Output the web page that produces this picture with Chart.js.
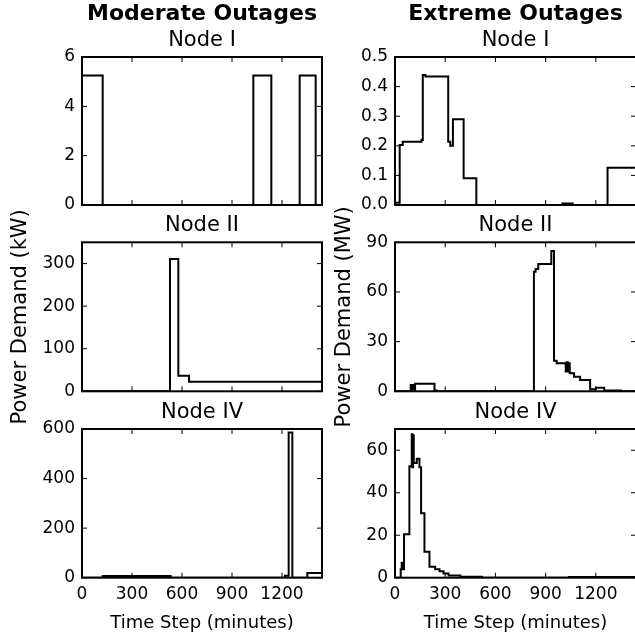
<!DOCTYPE html>
<html><head><meta charset="utf-8">
<script src="https://cdn.jsdelivr.net/npm/chart.js@4"></script>
<style>
html,body{margin:0;padding:0;width:635px;height:635px;overflow:hidden;background:#fff}
canvas{position:absolute;left:0;top:0}
</style></head><body>
<script>
// ---------- DATA ----------
const groupTitles = ['Moderate Outages', 'Extreme Outages'];
const nodeTitles = ['Node I', 'Node II', 'Node IV'];
const yAxisLabels = ['Power Demand (kW)', 'Power Demand (MW)'];
const xAxisLabel = 'Time Step (minutes)';
const timeTicks = [0, 300, 600, 900, 1200];
const timeMax = 1440;

// Moderate outages (kW): value v[i] holds from t[i] to t[i+1]
const modI_t = [0, 124, 1028, 1136, 1306, 1402, 1440];
const modI_v = [5.25, 0, 5.25, 0, 5.25, 0, 0];
const modI_yticks = [0, 2, 4, 6];

const modII_t = [0, 528, 578, 642, 1440];
const modII_v = [0, 311, 36.5, 22.5, 22.5];
const modII_yticks = [0, 100, 200, 300];

const modIV_t = [0, 124, 532, 1218, 1240, 1262, 1352, 1440];
const modIV_v = [0, 7, 0, 8, 586, 0, 19, 19];
const modIV_yticks = [0, 200, 400, 600];

// Extreme outages (MW)
const extI_t = [0, 28, 46, 158, 166, 182, 318, 330, 346, 410, 486, 1000, 1062, 1270, 1440];
const extI_v = [0.008, 0.203, 0.214, 0.22, 0.439, 0.434, 0.214, 0.2, 0.29, 0.09, 0, 0.005, 0, 0.126, 0.126];
const extI_yticks = [0, 0.1, 0.2, 0.3, 0.4, 0.5];

const extII_t = [0, 94, 100, 106, 112, 120, 236, 250, 830, 840, 856, 934, 950, 966, 1020, 1026, 1032, 1038, 1044, 1050, 1070, 1106, 1166, 1200, 1250, 1350, 1440];
const extII_v = [0, 3.8, 1, 3.8, 1, 4.6, 0.5, 0, 72.2, 73.9, 76.9, 84.7, 18.5, 16.9, 12, 17.5, 12, 17, 11, 10.9, 8.8, 6.8, 1.2, 2.2, 0.5, 0, 0];
const extII_yticks = [0, 30, 60, 90];

const extIV_t = [0, 34, 40, 46, 54, 86, 100, 104, 108, 112, 130, 146, 156, 176, 206, 240, 266, 290, 320, 390, 520, 1040, 1440];
const extIV_v = [0, 4, 7, 4, 20.4, 52.5, 67.5, 52, 67, 54, 56, 52, 30.3, 12.2, 5.2, 4, 3, 2, 1, 0.5, 0, 0.3, 0.3];
const extIV_yticks = [0, 20, 40, 60];

// ---------- LAYOUT ----------
const FONT = 'DejaVu Sans';
Chart.defaults.font.family = FONT;
Chart.defaults.color = '#000';
const CW = 640, CH = 635;
const cols = [
  {x0: 82, x1: 322, padL: 0, yLabelMid: 20.2},
  {x0: 395, x1: 636, padL: 320, yLabelMid: 345}
];
const rows = [
  {y0: 57, y1: 205},
  {y0: 242.3, y1: 391.3},
  {y0: 429, y1: 577.7}
];

const framePlugin = {
  id: 'frame',
  afterDatasetsDraw(chart) {
    const {ctx, chartArea: a, scales: {x, y}} = chart;
    ctx.save();
    ctx.strokeStyle = '#000';
    ctx.lineWidth = 1;
    ctx.beginPath();
    x.ticks.forEach(t => {
      const p = x.getPixelForValue(t.value);
      ctx.moveTo(p, a.bottom); ctx.lineTo(p, a.bottom - 5);
      ctx.moveTo(p, a.top); ctx.lineTo(p, a.top + 5);
    });
    y.ticks.forEach(t => {
      const p = y.getPixelForValue(t.value);
      ctx.moveTo(a.left, p); ctx.lineTo(a.left + 5, p);
      ctx.moveTo(a.right, p); ctx.lineTo(a.right - 5, p);
    });
    ctx.stroke();
    ctx.lineWidth = 2;
    ctx.strokeRect(a.left, a.top, a.right - a.left, a.bottom - a.top);
    ctx.restore();
  }
};

function panel(col, row, t, v, yticks, ymax, dec) {
  const c = document.createElement('canvas');
  c.width = CW; c.height = CH;
  document.body.appendChild(c);
  const C = cols[col], R = rows[row];
  const isBottom = row === 2;
  const xH = isBottom ? 56.2 : 0;
  const nodeFont = {family: FONT, size: 21, weight: 'normal', lineHeight: 1.2};
  const plugins = {legend: {display: false}, tooltip: {enabled: false}};
  let topPad;
  if (row === 0) {
    plugins.title = {display: true, text: groupTitles[col], color: '#000', fullSize: false,
      font: {family: FONT, size: 22, weight: 'bold', lineHeight: 1.2}, padding: {top: 0, bottom: 0}};
    plugins.subtitle = {display: true, text: nodeTitles[row], color: '#000', fullSize: false,
      font: nodeFont, padding: {top: 0, bottom: 4.2}};
    topPad = R.y0 - 26.4 - 29.4;
  } else {
    plugins.title = {display: true, text: nodeTitles[row], color: '#000', fullSize: false,
      font: nodeFont, padding: {top: 0, bottom: 4.2}};
    topPad = R.y0 - 29.4;
  }
  new Chart(c, {
    type: 'line',
    data: {
      datasets: [{
        data: t.map((x, i) => ({x: x, y: v[i]})),
        stepped: 'before',
        borderColor: '#000',
        borderWidth: 2,
        pointRadius: 0,
        fill: false
      }]
    },
    options: {
      responsive: false,
      animation: false,
      events: [],
      layout: {autoPadding: false, padding: {left: C.padL, right: CW - C.x1, top: topPad, bottom: CH - R.y1 - xH}},
      plugins: plugins,
      scales: {
        x: {
          type: 'linear', min: 0, max: timeMax,
          grid: {display: false, drawTicks: false}, border: {display: false},
          ticks: {display: isBottom, padding: 6.2, font: {size: 17}, maxRotation: 0, autoSkip: false,
            callback: val => String(val)},
          title: {display: isBottom, text: xAxisLabel, font: {size: 18, lineHeight: 1.2}, padding: 0},
          afterBuildTicks: s => { s.ticks = timeTicks.map(val => ({value: val})); },
          afterFit: s => { s.height = xH; s.paddingLeft = 0; s.paddingRight = 0; s.paddingTop = 0; s.paddingBottom = 0; }
        },
        y: {
          type: 'linear', min: 0, max: ymax,
          grid: {display: false, drawTicks: false}, border: {display: false},
          ticks: {padding: 7, font: {size: 17}, autoSkip: false, callback: val => Number(val).toFixed(dec)},
          title: {display: row === 1, text: yAxisLabels[col], font: {size: 21, lineHeight: 1.2},
            padding: {top: C.yLabelMid - C.padL - 12.6, bottom: 0}},
          afterBuildTicks: s => { s.ticks = yticks.map(val => ({value: val})); },
          afterFit: s => { s.width = C.x0 - C.padL; s.paddingLeft = 0; s.paddingRight = 0; s.paddingTop = 0; s.paddingBottom = 0; }
        }
      }
    },
    plugins: [framePlugin]
  });
}

panel(0, 0, modI_t, modI_v, modI_yticks, 6, 0);
panel(0, 1, modII_t, modII_v, modII_yticks, 350, 0);
panel(0, 2, modIV_t, modIV_v, modIV_yticks, 600, 0);
panel(1, 0, extI_t, extI_v, extI_yticks, 0.5, 1);
panel(1, 1, extII_t, extII_v, extII_yticks, 90, 0);
panel(1, 2, extIV_t, extIV_v, extIV_yticks, 70, 0);
</script>
</body></html>
